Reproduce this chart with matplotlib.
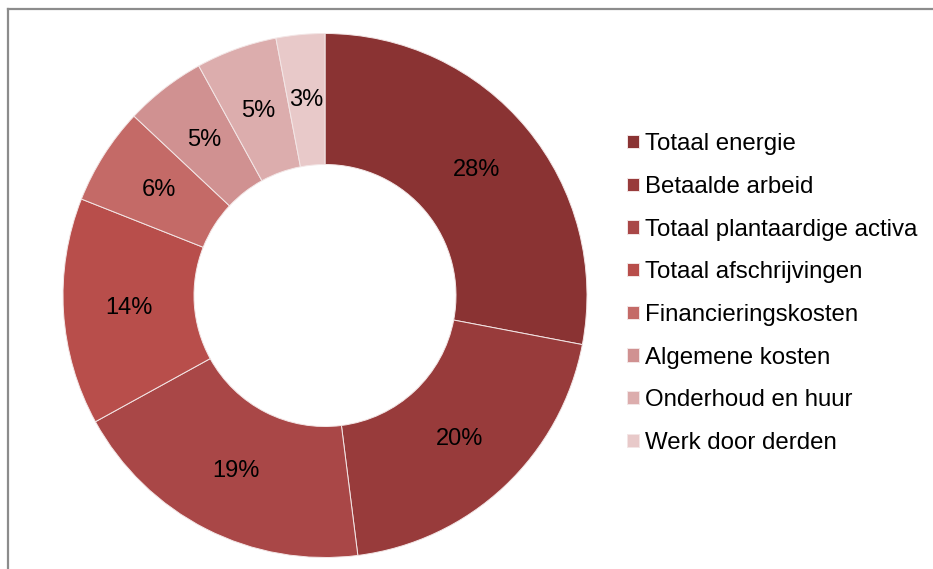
import matplotlib.pyplot as plt
from matplotlib.lines import Line2D

categorieen = ['Totaal energie', 'Betaalde arbeid', 'Totaal plantaardige activa',
               'Totaal afschrijvingen', 'Financieringskosten', 'Algemene kosten',
               'Onderhoud en huur', 'Werk door derden']
aandeel = [28, 20, 19, 14, 6, 5, 5, 3]
kleuren = ['#8a3333', '#983b3b', '#a94747', '#b84e4b', '#c46a67',
           '#d09191', '#dcadad', '#e8c9c9']

plt.rcParams['font.family'] = ['Liberation Sans', 'DejaVu Sans']

fig = plt.figure(figsize=(9.33, 5.69), dpi=100)

# grijze rand links en boven
fig.add_artist(Line2D([8/933, 8/933], [0, 1 - 9/569], color='#8c8c8c', lw=1.6))
fig.add_artist(Line2D([8/933, 1], [1 - 9/569, 1 - 9/569], color='#8c8c8c', lw=1.6))

ax = fig.add_axes([63/933, 11.5/569, 524/933, 524/569])
wedges, texts, autotexts = ax.pie(aandeel, colors=kleuren, startangle=90, counterclock=False,
                                  radius=1, autopct='%.0f%%', pctdistance=0.75,
                                  wedgeprops=dict(width=0.5, edgecolor='#f3e6e6', linewidth=0.7),
                                  textprops=dict(fontsize=17, color='black'))
ax.set_xlim(-1, 1)
ax.set_ylim(-1, 1)
ax.set_aspect('equal')
ax.axis('off')

fig.legend(wedges, categorieen, loc='center left', bbox_to_anchor=(627/933, 0.484),
           frameon=False, fontsize=17.3, handlelength=0.48, handleheight=0.48,
           handletextpad=0.25, labelspacing=0.86, borderpad=0, borderaxespad=0)

plt.savefig('out.png', dpi=100)
